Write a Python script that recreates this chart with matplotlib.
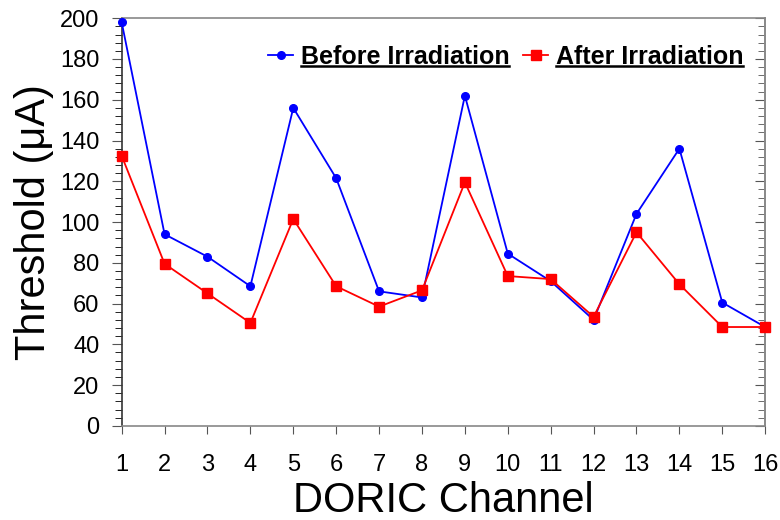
import matplotlib
matplotlib.use('Agg')
import matplotlib.pyplot as plt
from matplotlib.lines import Line2D
from matplotlib.ticker import MultipleLocator

plt.rcParams['font.family'] = ['Liberation Sans', 'DejaVu Sans']

# Data
channels = list(range(1, 17))
before = [198, 94, 83, 68.5, 156, 121.5, 66, 63, 162, 84.5, 71, 52, 104, 136, 60.5, 48.5]
after = [132.5, 79.5, 65, 50.5, 101.5, 68.5, 58.5, 66.5, 119.5, 73.5, 72, 53.5, 95, 69.5, 48.5, 48.5]

fig = plt.figure(figsize=(7.8, 5.2), dpi=100)
ax = fig.add_axes([0.156, 0.181, 0.825, 0.784])

ax.plot(channels, before, color='#0000ff', lw=1.3, marker='o', ms=5.5,
        label='Before Irradiation', clip_on=False, zorder=3)
ax.plot(channels, after, color='#ff0000', lw=1.3, marker='s', ms=7,
        label='After Irradiation', clip_on=False, zorder=3)

ax.set_xlim(1, 16)
ax.set_ylim(0, 200)
ax.set_xticks(channels)
ax.yaxis.set_major_locator(MultipleLocator(20))
ax.yaxis.set_minor_locator(MultipleLocator(4))
ax.tick_params(axis='both', labelsize=17, color='#555555')
ax.tick_params(axis='x', length=6, pad=14)
ax.tick_params(axis='y', which='major', length=7, pad=9)
ax.tick_params(axis='y', which='minor', length=5)
# inward ticks on the right side without labels
ax2 = ax.secondary_yaxis('right')
ax2.yaxis.set_major_locator(MultipleLocator(20))
ax2.yaxis.set_minor_locator(MultipleLocator(4))
ax2.tick_params(axis='y', which='both', direction='in', labelright=False, color='#555555')
ax2.tick_params(axis='y', which='major', length=7)
ax2.tick_params(axis='y', which='minor', length=5)
ax2.spines['right'].set_color('#888888')
ax2.spines['right'].set_linewidth(1.2)

for side in ['left', 'right', 'top', 'bottom']:
    ax.spines[side].set_color('#888888')
    ax.spines[side].set_linewidth(1.2)
ax.spines['left'].set_color('#333333')

ax.set_xlabel('DORIC Channel', fontsize=30, labelpad=4)
ax.set_ylabel('Threshold (\u03bcA)', fontsize=30, labelpad=4)

leg = fig.legend(*ax.get_legend_handles_labels(), loc='upper right',
                 bbox_to_anchor=(743 / 780, 1 - 45 / 520), ncol=2, frameon=False,
                 prop={'weight': 'bold', 'size': 18}, handlelength=1.0,
                 handletextpad=0.3, columnspacing=0.55, borderaxespad=0, borderpad=0)

# underline the legend texts
fig.canvas.draw()
renderer = fig.canvas.get_renderer()
inv = fig.transFigure.inverted()
for t in leg.get_texts():
    bb = t.get_window_extent(renderer)
    (x0, y0), (x1, y1) = inv.transform([(bb.x0, bb.y0), (bb.x1, bb.y1)])
    fig.add_artist(Line2D([x0, x1], [y0 + 0.006, y0 + 0.006], color='black', lw=1.8,
                          transform=fig.transFigure))

fig.savefig('out.png', dpi=100)
